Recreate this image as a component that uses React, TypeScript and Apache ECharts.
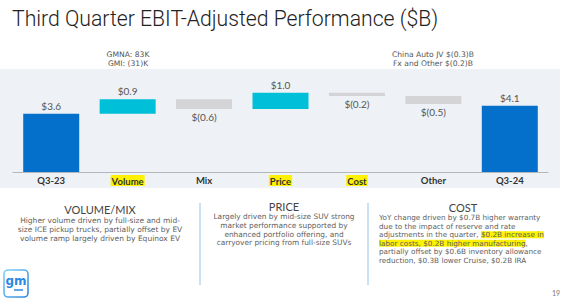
import React, { useEffect, useRef } from "react";
import * as echarts from "echarts";

// Waterfall bridge: Q3-23 EBIT-adjusted to Q3-24, $B
const categories = ["Q3-23", "Volume", "Mix", "Price", "Cost", "Other", "Q3-24"];
const changes = [3.6, 0.9, -0.6, 1.0, -0.2, -0.5, 4.1];
const isTotal = [true, false, false, false, false, false, true];
const highlighted = ["Volume", "Price", "Cost"];

const volumeNote = "GMNA: 83K\nGMI: (31)K";
const otherNote = "China Auto JV $(0.3)B\nFx and Other $(0.2)B";

const volumeMixLines = [
  "Higher volume driven by full-size and mid-",
  "size ICE pickup trucks, partially offset by EV",
  "volume ramp largely driven by Equinox EV",
];
const priceLines = [
  "Largely driven by mid-size SUV strong",
  "market performance supported by",
  "enhanced portfolio offering, and",
  "carryover pricing from full-size SUVs",
];
const costText =
  "YoY change driven by $0.7B higher warranty\n" +
  "due to the impact of reserve and rate\n" +
  "adjustments in the quarter, {hl|$0.2B increase in}\n" +
  "{hl|labor costs, $0.2B higher manufacturing},\n" +
  "partially offset by $0.6B inventory allowance\n" +
  "reduction, $0.3B lower Cruise, $0.2B IRA";

const FONT = "Lato, 'Open Sans', sans-serif";
const BODY_FONT = "'DejaVu Sans', 'Open Sans', sans-serif";
const TOTAL_COLOR = "#0470cc";
const UP_COLOR = "#00bfd8";
const DOWN_COLOR = "#d4d4d6";

function fmt(v: number): string {
  return v >= 0 ? `$${v.toFixed(1)}` : `$(${Math.abs(v).toFixed(1)})`;
}

export default function App() {
  const ref = useRef<HTMLDivElement>(null);

  useEffect(() => {
    if (!ref.current) return;
    const chart = echarts.init(ref.current, undefined, { renderer: "svg" });

    // invisible base + visible step for each category
    const bases: number[] = [];
    const heights: number[] = [];
    let running = 0;
    changes.forEach((v, i) => {
      if (isTotal[i]) {
        bases.push(0);
        heights.push(v);
        running = v;
      } else if (v >= 0) {
        bases.push(running);
        heights.push(v);
        running += v;
      } else {
        running += v;
        bases.push(running);
        heights.push(-v);
      }
    });

    const visible = heights.map((h, i) => {
      const v = changes[i];
      const color = isTotal[i] ? TOTAL_COLOR : v >= 0 ? UP_COLOR : DOWN_COLOR;
      return {
        value: h,
        itemStyle: { color },
        label: { position: v >= 0 ? "top" : "bottom", formatter: fmt(v) },
      };
    });

    const bodyStyle = { fontFamily: BODY_FONT, fill: "#606060" };
    const headStyle = {
      fontSize: 11,
      lineHeight: 11,
      fontFamily: FONT,
      fill: "#444",
      align: "center",
      verticalAlign: "middle",
    };

    chart.setOption({
      animation: false,
      backgroundColor: "#ffffff",
      grid: { left: 13, right: 20, top: 75, bottom: 132, containLabel: false },
      xAxis: {
        type: "category",
        data: categories,
        axisTick: { show: false },
        axisLine: { lineStyle: { color: "#b4b8bc", width: 1 } },
        axisLabel: {
          margin: 3,
          color: "#333",
          fontSize: 9.5,
          fontFamily: FONT,
          fontWeight: "bold",
          formatter: (v: string) => (highlighted.includes(v) ? `{hl|${v}}` : v),
          rich: {
            hl: {
              backgroundColor: "#fff200",
              color: "#333",
              fontSize: 9.5,
              fontFamily: FONT,
              fontWeight: "bold",
              padding: [1, 1, 0, 1],
            },
          },
        },
      },
      yAxis: { type: "value", min: 0, max: 6, show: false, splitLine: { show: false } },
      series: [
        {
          type: "bar",
          stack: "w",
          data: bases,
          barWidth: 56,
          itemStyle: { color: "transparent" },
          silent: true,
        },
        {
          type: "bar",
          stack: "w",
          data: visible,
          barWidth: 56,
          label: {
            show: true,
            distance: 3,
            color: "#555",
            fontSize: 10,
            fontFamily: FONT,
          },
        },
      ],
      graphic: [
        // panel behind the chart
        {
          type: "rect",
          z: -10,
          shape: { x: 0, y: 69, width: 560, height: 119 },
          style: { fill: "#eef2f6" },
          silent: true,
        },
        {
          type: "text",
          x: 12,
          y: 18,
          style: {
            text: "Third Quarter EBIT-Adjusted Performance ($B)",
            fontSize: 21.2,
            fontFamily: "Roboto, Lato, sans-serif",
            fontWeight: 300,
            fill: "#222",
            verticalAlign: "middle",
          },
        },
        {
          type: "text",
          x: 128,
          y: 59,
          style: {
            text: volumeNote,
            fontSize: 7.6,
            lineHeight: 9.5,
            fontFamily: BODY_FONT,
            fill: "#555",
            align: "center",
            verticalAlign: "middle",
          },
        },
        {
          type: "text",
          x: 433,
          y: 59,
          style: {
            text: otherNote,
            fontSize: 7.6,
            lineHeight: 9.5,
            fontFamily: BODY_FONT,
            fill: "#555",
            align: "center",
            verticalAlign: "middle",
          },
        },
        // notes below the chart
        { type: "text", x: 100, y: 209.5, style: { ...headStyle, text: "VOLUME/MIX" } },
        {
          type: "text",
          x: 100,
          y: 229.2,
          style: {
            ...bodyStyle,
            fontSize: 7.5,
            text: volumeMixLines.join("\n"),
            lineHeight: 9.2,
            align: "center",
            verticalAlign: "middle",
          },
        },
        {
          type: "line",
          shape: { x1: 200, y1: 203, x2: 200, y2: 285 },
          style: { stroke: "#b9d7f0", lineWidth: 1.5 },
        },
        { type: "text", x: 284, y: 206.8, style: { ...headStyle, text: "PRICE" } },
        {
          type: "text",
          x: 284,
          y: 229.7,
          style: {
            ...bodyStyle,
            fontSize: 7.4,
            text: priceLines.join("\n"),
            lineHeight: 8.7,
            align: "center",
            verticalAlign: "middle",
          },
        },
        {
          type: "line",
          shape: { x1: 368, y1: 203, x2: 368, y2: 285 },
          style: { stroke: "#b9d7f0", lineWidth: 1.5 },
        },
        { type: "text", x: 463, y: 207.9, style: { ...headStyle, text: "COST" } },
        {
          type: "text",
          x: 379,
          y: 213.5,
          style: {
            ...bodyStyle,
            fontSize: 7.25,
            text: costText,
            lineHeight: 8.5,
            align: "left",
            verticalAlign: "top",
            rich: {
              hl: {
                backgroundColor: "#fff200",
                fontSize: 7.25,
                fontFamily: BODY_FONT,
                fill: "#606060",
                color: "#606060",
                lineHeight: 8.5,
              },
            },
          },
        },
        // logo badge
        {
          type: "rect",
          shape: { x: 4, y: 270, width: 24, height: 27, r: 4 },
          style: {
            fill: "#ffffff",
            lineWidth: 1.6,
            stroke: new echarts.graphic.LinearGradient(0, 0, 1, 1, [
              { offset: 0, color: "#7fd2f7" },
              { offset: 1, color: "#2b86e0" },
            ]),
          },
        },
        {
          type: "text",
          x: 16,
          y: 281,
          style: {
            text: "gm",
            fontSize: 12,
            fontWeight: "bold",
            fontFamily: "'DejaVu Sans', sans-serif",
            fill: "#2a8ae3",
            align: "center",
            verticalAlign: "middle",
          },
        },
        {
          type: "line",
          shape: { x1: 14, y1: 290, x2: 23, y2: 290 },
          style: { stroke: "#2a8ae3", lineWidth: 1.5 },
        },
        {
          type: "text",
          x: 556,
          y: 293,
          style: {
            text: "19",
            fontSize: 7,
            fontFamily: FONT,
            fill: "#777",
            align: "center",
            verticalAlign: "middle",
          },
        },
      ],
    });

    return () => chart.dispose();
  }, []);

  return (
    <div
      ref={ref}
      style={{ position: "fixed", left: 0, top: 0, width: 568, height: 304 }}
    />
  );
}
